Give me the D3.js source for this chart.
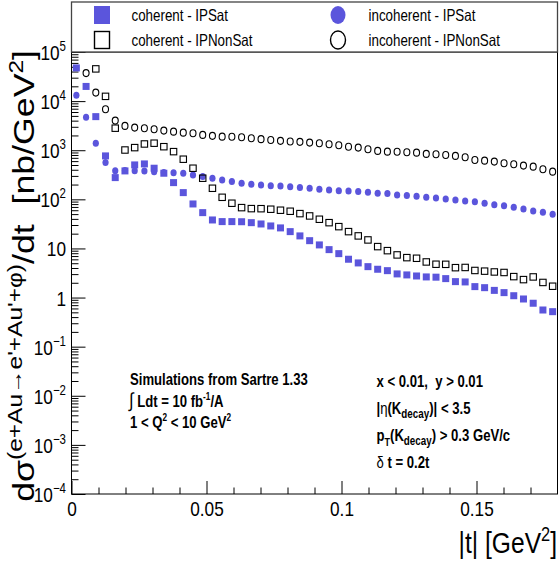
<!DOCTYPE html>
<html>
<head>
<meta charset="utf-8">
<script src="https://cdn.jsdelivr.net/npm/d3@7"></script>
<style>
  html, body { margin: 0; padding: 0; background: #fff; }
  svg { display: block; font-family: "Liberation Sans", Arial, sans-serif; }
  text { white-space: pre; }
</style>
</head>
<body>
<div id="chart"></div>
<script>
// |t| bin centres (GeV^2)
const tValues = [0.0018, 0.0054, 0.0090, 0.0126, 0.0162, 0.0198, 0.0234, 0.0270, 0.0306, 0.0342,
  0.0378, 0.0414, 0.0450, 0.0486, 0.0522, 0.0558, 0.0594, 0.0630, 0.0666, 0.0702,
  0.0738, 0.0774, 0.0810, 0.0846, 0.0882, 0.0918, 0.0954, 0.0990, 0.1026, 0.1062,
  0.1098, 0.1134, 0.1170, 0.1206, 0.1242, 0.1278, 0.1314, 0.1350, 0.1386, 0.1422,
  0.1458, 0.1494, 0.1530, 0.1566, 0.1602, 0.1638, 0.1674, 0.1710, 0.1746, 0.1782];

// dsigma/dt in nb/GeV^2
const coherentSat = [47400, 19900, 4830, 766, 277, 379, 502, 526, 430, 340,
  219, 137, 80.5, 53.6, 38.0, 35.2, 35.2, 35.0, 33.5, 31.5,
  28.7, 26.2, 22.0, 18.0, 14.4, 11.8, 9.46, 7.84, 6.03, 5.07,
  4.26, 3.77, 3.53, 3.03, 2.89, 2.75, 2.63, 2.60, 2.43, 2.11,
  2.08, 1.67, 1.59, 1.40, 1.26, 1.09, 0.935, 0.766, 0.558, 0.516];

const coherentNonSat = [null, null, 45300, 12500, 2810, 1010, 1130, 1340, 1390, 1180,
  936, 656, 430, 269, 168, 110, 83.3, 67.8, 64.7, 64.5,
  62.9, 60.0, 57.2, 51.2, 45.9, 39.3, 33.5, 27.8, 22.0, 18.0,
  14.9, 10.9, 9.02, 7.38, 6.50, 6.31, 5.31, 4.77, 4.75, 4.06,
  4.10, 3.56, 3.45, 3.32, 3.24, 2.67, 2.32, 2.63, 2.03, 1.70];

const incoherentSat = [13200, 4700, 1390, 560, 384, 385, 382, 379, 366, 350,
  348, 340, 314, 290, 269, 248, 230, 213, 203, 196,
  190, 187, 181, 175, 168, 161, 155, 150, 148, 144,
  140, 133, 131, 123, 119, 116, 110, 107, 102, 97.3,
  92.8, 89.8, 83.3, 78.0, 74.4, 69.0, 63.7, 58.0, 54.6, 49.8];

const incoherentNonSat = [null, 37200, 14900, 6840, 4010, 3130, 2890, 2810, 2680, 2510,
  2390, 2280, 2220, 2050, 1960, 1890, 1880, 1840, 1750, 1680,
  1620, 1550, 1500, 1480, 1430, 1390, 1320, 1260, 1180, 1130,
  1050, 968, 936, 930, 910, 893, 841, 830, 802, 766,
  720, 634, 614, 586, 543, 519, 486, 463, 410, 366];

// axis ticks and labels
const xMajorTicks = [0, 0.05, 0.1, 0.15];
const xMajorLabels = ["0", "0.05", "0.1", "0.15"];
const xMinorTicks = [0.01, 0.02, 0.03, 0.04, 0.06, 0.07, 0.08, 0.09, 0.11, 0.12, 0.13, 0.14, 0.16, 0.17];
const yTickValues = [1e-4, 1e-3, 1e-2, 1e-1, 1, 10, 1e2, 1e3, 1e4, 1e5];
const yTickBases = ["10", "10", "10", "10", "1", "10", "10", "10", "10", "10"];
const yTickExps = ["\u22124", "\u22123", "\u22122", "\u22121", "", "", "2", "3", "4", "5"];

const legendLabels = ["coherent - IPSat", "coherent - IPNonSat", "incoherent - IPSat", "incoherent - IPNonSat"];

const width = 559;
const height = 562;
const blue = "#5b55dc";
const SX = 0.82; // ROOT text looks horizontally squeezed

const x = d3.scaleLinear().domain([0, 0.18]).range([71.5, 557.5]);
const y = d3.scaleLog().domain([1e-4, 1e5]).range([494, 52]);

const svg = d3.select("#chart").append("svg")
    .attr("width", width)
    .attr("height", height);

// helper for squeezed text
function addText(parent, px, py, anchor, size, weight) {
    return parent.append("text")
        .attr("transform", `translate(${px},${py}) scale(${SX},1)`)
        .attr("text-anchor", anchor)
        .style("font-size", size + "px")
        .style("font-weight", weight || "normal")
        .attr("fill", "#000");
}

// ---- axes ticks
const gx = svg.append("g").attr("transform", "translate(0,494)");
gx.call(d3.axisBottom(x).tickValues(xMajorTicks).tickSize(-13).tickSizeOuter(0)
    .tickPadding(7).tickFormat((d, i) => xMajorLabels[i]));
gx.append("g").call(d3.axisBottom(x).tickValues(xMinorTicks).tickSize(-6.5).tickSizeOuter(0).tickFormat(""));
gx.selectAll(".domain").remove();
gx.selectAll("text")
    .attr("transform", `scale(${SX},1)`)
    .style("font-size", "21px")
    .style("font-family", "'Liberation Sans', Arial, sans-serif")
    .attr("fill", "#000");

const yMinor = [];
yTickValues.slice(0, -1).forEach(v => {
    for (let k = 2; k <= 9; k++) yMinor.push(v * k);
});

const gy = svg.append("g").attr("transform", "translate(71.5,0)");
gy.call(d3.axisLeft(y).tickValues(yTickValues).tickSize(-14).tickSizeOuter(0).tickFormat(""));
gy.append("g").call(d3.axisLeft(y).tickValues(yMinor).tickSize(-7).tickSizeOuter(0).tickFormat(""));
gy.selectAll(".domain").remove();
svg.selectAll(".tick line").attr("stroke", "#000").attr("stroke-width", 1);

// y tick labels
yTickValues.forEach((v, i) => {
    const t = addText(svg, 66, y(v) + 8, "end", 21);
    t.append("tspan").text(yTickBases[i]);
    if (yTickExps[i]) {
        t.append("tspan").attr("dy", -9).style("font-size", "14px").text(yTickExps[i]);
    }
});

// frame
svg.append("rect")
    .attr("x", 71.5).attr("y", 52)
    .attr("width", 486).attr("height", 442)
    .attr("fill", "none").attr("stroke", "#000").attr("stroke-width", 1);

// ---- data markers
function pts(vals) {
    return tValues.map((t, i) => ({ t: t, v: vals[i] })).filter(d => d.v != null);
}

svg.append("g").selectAll("rect")
    .data(pts(coherentSat)).enter().append("rect")
    .attr("x", d => x(d.t) - 3.5).attr("y", d => y(d.v) - 3.5)
    .attr("width", 7).attr("height", 7)
    .attr("fill", blue);

svg.append("g").selectAll("ellipse")
    .data(pts(incoherentSat)).enter().append("ellipse")
    .attr("cx", d => x(d.t)).attr("cy", d => y(d.v))
    .attr("rx", 3.1).attr("ry", 3.5)
    .attr("fill", blue);

svg.append("g").selectAll("rect")
    .data(pts(coherentNonSat)).enter().append("rect")
    .attr("x", d => x(d.t) - 3.2).attr("y", d => y(d.v) - 3.2)
    .attr("width", 6.4).attr("height", 6.4)
    .attr("fill", "none").attr("stroke", "#000").attr("stroke-width", 1.1);

svg.append("g").selectAll("ellipse")
    .data(pts(incoherentNonSat)).enter().append("ellipse")
    .attr("cx", d => x(d.t)).attr("cy", d => y(d.v))
    .attr("rx", 3.0).attr("ry", 3.5)
    .attr("fill", "none").attr("stroke", "#000").attr("stroke-width", 1.1);

// ---- legend
const leg = svg.append("g");
leg.append("rect")
    .attr("x", 71.5).attr("y", 2).attr("width", 486).attr("height", 50)
    .attr("fill", "#fff").attr("stroke", "#444").attr("stroke-width", 1.3);
leg.append("rect").attr("x", 94).attr("y", 6).attr("width", 16).attr("height", 18).attr("fill", blue);
leg.append("rect").attr("x", 94.5).attr("y", 31.5).attr("width", 15).attr("height", 17)
    .attr("fill", "none").attr("stroke", "#000").attr("stroke-width", 1.4);
leg.append("ellipse").attr("cx", 338).attr("cy", 15).attr("rx", 7.5).attr("ry", 9).attr("fill", blue);
leg.append("ellipse").attr("cx", 338).attr("cy", 40).attr("rx", 7.5).attr("ry", 9)
    .attr("fill", "none").attr("stroke", "#000").attr("stroke-width", 1.4);
addText(leg, 131.5, 20.5, "start", 16.3).text(legendLabels[0]);
addText(leg, 131.5, 45.5, "start", 16.3).text(legendLabels[1]);
addText(leg, 368.5, 20.5, "start", 16.3).text(legendLabels[2]);
addText(leg, 368.5, 45.5, "start", 16.3).text(legendLabels[3]);

// ---- annotations
const a1 = addText(svg, 130, 385, "start", 16, "bold");
a1.text("Simulations from Sartre 1.33");

const a2 = addText(svg, 129, 407, "start", 16, "bold");
a2.append("tspan").style("font-weight", "normal").style("font-size", "20px").text("\u222B");
a2.append("tspan").text(" Ldt = 10 fb");
a2.append("tspan").attr("dy", -7).style("font-size", "10px").text("-1");
a2.append("tspan").attr("dy", 7).text("/A");

const a3 = addText(svg, 130, 428, "start", 16, "bold");
a3.append("tspan").text("1 < Q");
a3.append("tspan").attr("dy", -7).style("font-size", "10px").text("2");
a3.append("tspan").attr("dy", 7).text(" < 10 GeV");
a3.append("tspan").attr("dy", -7).style("font-size", "10px").text("2");

const b1 = addText(svg, 376.5, 387, "start", 16, "bold");
b1.text("x < 0.01,\u00A0 y > 0.01");

const b2 = addText(svg, 376.5, 414, "start", 16, "bold");
b2.append("tspan").text("|");
b2.append("tspan").style("font-weight", "normal").text("\u03B7");
b2.append("tspan").text("(K");
b2.append("tspan").attr("dy", 4).style("font-size", "12px").text("decay");
b2.append("tspan").attr("dy", -4).text(")| < 3.5");

const b3 = addText(svg, 376.5, 441, "start", 16, "bold");
b3.append("tspan").text("p");
b3.append("tspan").attr("dy", 5).style("font-size", "11px").text("T");
b3.append("tspan").attr("dy", -5).text("(K");
b3.append("tspan").attr("dy", 4).style("font-size", "12px").text("decay");
b3.append("tspan").attr("dy", -4).text(") > 0.3 GeV/c");

const b4 = addText(svg, 376.5, 468, "start", 16, "bold");
b4.append("tspan").style("font-weight", "normal").text("\u03B4");
b4.append("tspan").text(" t = 0.2t");

// ---- axis titles
const xt = addText(svg, 557, 553, "end", 30);
xt.append("tspan").text("|t| [GeV");
xt.append("tspan").attr("dy", -12).style("font-size", "20px").text("2");
xt.append("tspan").attr("dy", 12).text("]");

// y title: rotated, squeezed across, then stretched along to span the axis
const yFont = 35;
const yt = svg.append("text")
    .attr("text-anchor", "end")
    .style("font-size", yFont + "px")
    .attr("fill", "#000");
yt.append("tspan").text("d\u03C3");
yt.append("tspan").attr("dy", -15).style("font-size", "24px").text("(e+Au\u2192e'+Au'+\u03C6)");
yt.append("tspan").attr("dy", 15).text("/dt\u00A0 [nb/GeV");
yt.append("tspan").attr("dy", -13).style("font-size", "24px").text("2");
yt.append("tspan").attr("dy", 13).text("]");
const len = yt.node().getBBox().width;
const k = 452 / len;
yt.attr("transform", `translate(34,50) scale(${SX},1) rotate(-90) scale(${k},1)`);
</script>
</body>
</html>
